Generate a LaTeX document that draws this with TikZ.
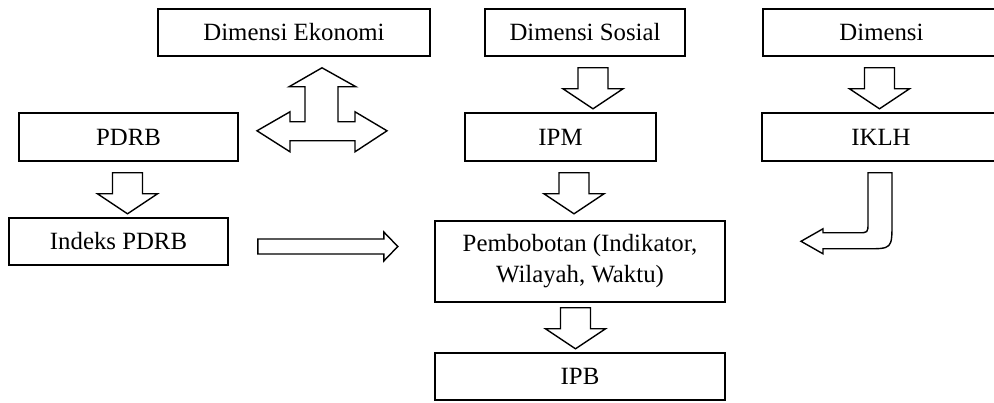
\documentclass[tikz,border=0pt]{standalone}
\usepackage{fontspec}
\setmainfont{Liberation Serif}
\usetikzlibrary{calc}
\tikzset{
  box/.style={draw=black, line width=1.6pt, rectangle, inner sep=0pt, align=center,
    font=\fontsize{24.8}{31}\selectfont},
  blk/.style={draw=black, line width=1.4pt, fill=white, line join=miter}
}
\newcommand\bdown[3]{\draw[blk] ($(#1)+(#2,#3)$) -- ++(30,0) -- ++(0,21) -- ++(15,0) -- ++(-30,20) -- ++(-30,-20) -- ++(15,0) -- cycle;}
\begin{document}
\begin{tikzpicture}[x=1pt,y=-1pt]
\useasboundingbox (0,0) rectangle (994,403);
\clip (0,0) rectangle (994,403);
% boxes
\node[box, minimum width=272pt, minimum height=47pt] (eko) at (294,32.5) {Dimensi Ekonomi};
\node[box, minimum width=200pt, minimum height=47pt] (sos) at (585,32.5) {Dimensi Sosial};
\node[box, minimum width=237pt, minimum height=47pt] (lhk) at (881.5,32.5) {Dimensi};
\node[box, minimum width=219pt, minimum height=48pt] (pdrb) at (128.5,137) {PDRB};
\node[box, minimum width=191pt, minimum height=48pt] (ipm) at (560.5,137) {IPM};
\node[box, minimum width=238pt, minimum height=48pt] (iklh) at (881,137) {IKLH};
\node[box, minimum width=219pt, minimum height=47pt] (ipdrb) at (118.5,241.5) {Indeks PDRB};
\node[box, minimum width=290pt, minimum height=81pt] (bobot) at (580,261.5) {Pembobotan (Indikator,\\Wilayah, Waktu)};
\node[box, minimum width=290pt, minimum height=47pt] (ipb) at (580,376.5) {IPB};
% down block arrows
\bdown{sos.south}{-7}{11}
\bdown{lhk.south}{-17}{11}
\bdown{pdrb.south}{-16}{11}
\bdown{ipm.south}{-1.5}{11}
\bdown{bobot.south}{-19.5}{5}
% three-way arrow below Dimensi Ekonomi
\begin{scope}[shift={($(eko.south)+(28,11)$)}]
\draw[blk] (0,0) -- (34,19) -- (16,19) -- (16,54) -- (33,54) -- (33,44) -- (65,63) -- (33,84) -- (33,73)
  -- (-32,73) -- (-32,84) -- (-65,63) -- (-32,44) -- (-32,54) -- (-17,54) -- (-17,19) -- (-33,19) -- cycle;
\end{scope}
% right arrow Indeks PDRB -> Pembobotan
\begin{scope}[shift={($(ipdrb.east)+(29,-2.5)$)}]
\draw[blk] (0,0) -- (126,0) -- (126,-7) -- (140,7.5) -- (126,22) -- (126,15) -- (0,15) -- cycle;
\end{scope}
% curved arrow IKLH -> Pembobotan
\begin{scope}[shift={($(iklh.south)+(-13,11)$)}]
\draw[blk] (0,0) -- (24,0) -- (24,50) .. controls (24,76) .. (-2,76) -- (-45,76) -- (-45,81)
  -- (-67,68.5) -- (-45,56) -- (-45,60) -- (-10,60) .. controls (0,60) .. (0,50) -- cycle;
\end{scope}
\end{tikzpicture}
\end{document}
